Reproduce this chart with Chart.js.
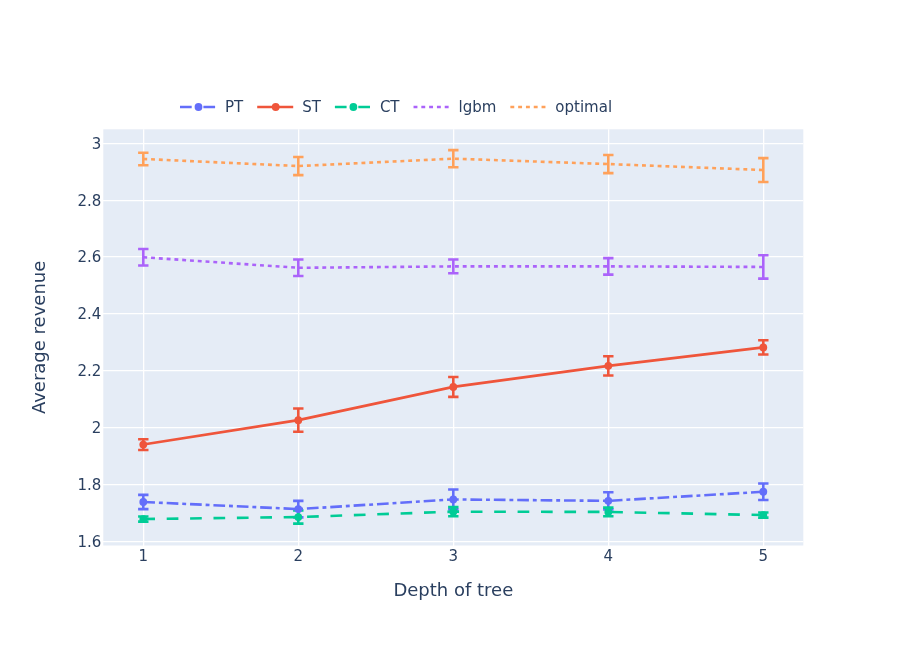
<!DOCTYPE html>
<html>
<head>
<meta charset="utf-8">
<script src="https://cdn.jsdelivr.net/npm/chart.js@4.4.0/dist/chart.umd.min.js"></script>
<style>
  html, body { margin: 0; padding: 0; background: #fff; }
  #wrap { width: 913px; height: 655px; }
</style>
</head>
<body>
<div id="wrap"><canvas id="chart" width="913" height="655"></canvas></div>
<script>
/* Data */
var depth = [1, 2, 3, 4, 5];
var xTicks = [1, 2, 3, 4, 5];
var yTicks = [1.6, 1.8, 2, 2.2, 2.4, 2.6, 2.8, 3];

var ptMean = [1.738, 1.713, 1.747, 1.742, 1.774];
var ptErr = [0.025, 0.029, 0.035, 0.030, 0.029];
var stMean = [1.940, 2.026, 2.143, 2.217, 2.282];
var stErr = [0.019, 0.041, 0.035, 0.034, 0.025];
var ctMean = [1.678, 1.685, 1.704, 1.703, 1.692];
var ctErr = [0.009, 0.023, 0.016, 0.015, 0.009];
var lgbmMean = [2.599, 2.562, 2.567, 2.567, 2.565];
var lgbmErr = [0.029, 0.029, 0.024, 0.029, 0.041];
var optimalMean = [2.945, 2.920, 2.946, 2.927, 2.906];
var optimalErr = [0.022, 0.032, 0.030, 0.032, 0.042];

var seriesNames = ['PT', 'ST', 'CT', 'lgbm', 'optimal'];

const TEXT = '#2a3f5f';
const FONT = '"DejaVu Sans", Verdana, sans-serif';

function makeSeries(name, means, errs, color, dash, radius, order) {
  return {
    label: name,
    data: depth.map(function (d, i) { return { x: d, y: means[i] }; }),
    errors: errs,
    borderColor: color,
    backgroundColor: color,
    borderWidth: 2.6,
    borderDash: dash,
    pointRadius: radius,
    pointBorderWidth: 0,
    pointBackgroundColor: color,
    tension: 0,
    fill: false,
    order: order
  };
}

/* Plot background, like plotly's grey-blue panel */
var panelPlugin = {
  id: 'panel',
  beforeDraw: function (chart) {
    var a = chart.chartArea;
    var ctx = chart.ctx;
    ctx.save();
    ctx.fillStyle = '#E5ECF6';
    ctx.fillRect(a.left, a.top, a.right - a.left, a.bottom - a.top);
    ctx.restore();
  }
};

/* Vertical error bars with caps */
var errorBarPlugin = {
  id: 'errorBars',
  beforeDatasetsDraw: function (chart) {
    var ctx = chart.ctx;
    var xs = chart.scales.x;
    var ys = chart.scales.y;
    ctx.save();
    chart.data.datasets.forEach(function (ds) {
      ctx.strokeStyle = ds.borderColor;
      ctx.lineWidth = 2.6;
      ctx.setLineDash([]);
      ds.data.forEach(function (p, i) {
        var px = xs.getPixelForValue(p.x);
        var top = ys.getPixelForValue(p.y + ds.errors[i]);
        var bot = ys.getPixelForValue(p.y - ds.errors[i]);
        ctx.beginPath();
        ctx.moveTo(px, top);
        ctx.lineTo(px, bot);
        ctx.moveTo(px - 5.2, top);
        ctx.lineTo(px + 5.2, top);
        ctx.moveTo(px - 5.2, bot);
        ctx.lineTo(px + 5.2, bot);
        ctx.stroke();
      });
    });
    ctx.restore();
  }
};

/* Horizontal legend above the plot, plotly style */
var legendPlugin = {
  id: 'plotlyLegend',
  afterDraw: function (chart) {
    var ctx = chart.ctx;
    var x = 180;
    var y = 107;
    ctx.save();
    ctx.font = '15px ' + FONT;
    ctx.textBaseline = 'middle';
    ctx.textAlign = 'left';
    chart.data.datasets.forEach(function (ds) {
      ctx.strokeStyle = ds.borderColor;
      ctx.lineWidth = 2.6;
      ctx.setLineDash(ds.borderDash);
      ctx.beginPath();
      ctx.moveTo(x, y);
      ctx.lineTo(x + 36, y);
      ctx.stroke();
      if (ds.pointRadius > 0) {
        ctx.fillStyle = ds.borderColor;
        ctx.beginPath();
        ctx.arc(x + 18.5, y, ds.pointRadius, 0, Math.PI * 2);
        ctx.fill();
      }
      ctx.fillStyle = TEXT;
      ctx.fillText(ds.label, x + 45, y + 1);
      x += 45 + ctx.measureText(ds.label).width + 14;
    });
    ctx.restore();
  }
};

function createChart(chartId) {
  const el = document.getElementById(chartId).getContext('2d');

  var datasets = [
    makeSeries(seriesNames[0], ptMean, ptErr, '#636efa', [11.7, 3.9, 3.9, 3.9], 3.9, 5),
    makeSeries(seriesNames[1], stMean, stErr, '#EF553B', [], 3.9, 4),
    makeSeries(seriesNames[2], ctMean, ctErr, '#00cc96', [11.7, 11.7], 3.9, 3),
    makeSeries(seriesNames[3], lgbmMean, lgbmErr, '#ab63fa', [3.9, 3.9], 0, 2),
    makeSeries(seriesNames[4], optimalMean, optimalErr, '#FFA15A', [3.9, 3.9], 0, 1)
  ];

  return new Chart(el, {
    type: 'line',
    data: { datasets: datasets },
    plugins: [panelPlugin, errorBarPlugin, legendPlugin],
    options: {
      responsive: false,
      animation: false,
      events: [],
      layout: { padding: { left: 0, top: 129.3, right: 109.7, bottom: 0 } },
      plugins: {
        legend: { display: false },
        tooltip: { enabled: false }
      },
      scales: {
        x: {
          type: 'linear',
          min: 0.742,
          max: 5.258,
          afterBuildTicks: function (s) { s.ticks = xTicks.map(function (v) { return { value: v }; }); },
          afterFit: function (s) { s.height = 109.5; },
          border: { display: false },
          grid: { color: '#ffffff', lineWidth: 1.3, drawTicks: false },
          ticks: { color: TEXT, padding: 3, font: { family: FONT, size: 15 } },
          title: {
            display: true,
            text: 'Depth of tree',
            color: TEXT,
            font: { family: FONT, size: 18 },
            padding: { top: 0, bottom: 53 }
          }
        },
        y: {
          type: 'linear',
          min: 1.5849,
          max: 3.0493,
          afterBuildTicks: function (s) { s.ticks = yTicks.map(function (v) { return { value: v }; }); },
          afterFit: function (s) { s.width = 103.3; },
          border: { display: false },
          grid: { color: '#ffffff', lineWidth: 1.3, drawTicks: false },
          ticks: {
            color: TEXT,
            padding: 2,
            labelOffset: 1.5,
            font: { family: FONT, size: 15 },
            callback: function (v) { return String(Math.round(v * 10) / 10); }
          },
          title: {
            display: true,
            text: 'Average revenue',
            color: TEXT,
            font: { family: FONT, size: 18 },
            padding: { top: 30, bottom: 0 }
          }
        }
      }
    }
  });
}

createChart('chart');
</script>
</body>
</html>
